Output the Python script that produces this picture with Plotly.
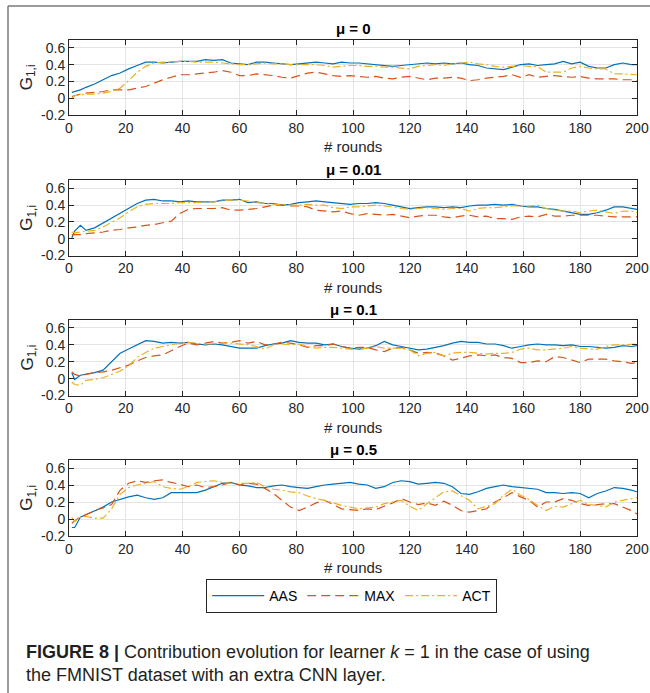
import plotly.graph_objects as go
from plotly.subplots import make_subplots

# ---------------- data ----------------
rounds = [1, 2, 4, 6, 9,
          12, 15, 18, 21, 24, 27, 30, 33, 36, 39,
          42, 45, 48, 51, 54, 57, 60, 63, 66, 69,
          72, 75, 78, 81, 84, 87, 90, 93, 96, 99,
          102, 105, 108, 111, 114, 117, 120, 123, 126, 129,
          132, 135, 138, 141, 144, 147, 150, 153, 156, 159,
          162, 165, 168, 171, 174, 177, 180, 183, 186, 189,
          192, 195, 198, 200]

mu_labels = ["0", "0.01", "0.1", "0.5"]
series_names = ["AAS", "MAX", "ACT"]

aas_mu0 = [0.07, 0.08, 0.10, 0.13, 0.17,
           0.22, 0.27, 0.30, 0.35, 0.39, 0.43, 0.43, 0.42, 0.43, 0.44,
           0.44, 0.44, 0.46, 0.45, 0.46, 0.42, 0.41, 0.40, 0.43, 0.43,
           0.42, 0.41, 0.40, 0.41, 0.42, 0.43, 0.42, 0.41, 0.43, 0.42,
           0.42, 0.41, 0.40, 0.39, 0.38, 0.39, 0.40, 0.41, 0.42, 0.41,
           0.42, 0.41, 0.42, 0.40, 0.39, 0.36, 0.35, 0.34, 0.37, 0.40,
           0.41, 0.39, 0.40, 0.41, 0.44, 0.41, 0.43, 0.38, 0.36, 0.36,
           0.40, 0.42, 0.40, 0.40]
max_mu0 = [0.02, 0.03, 0.05, 0.06, 0.07,
           0.08, 0.10, 0.10, 0.10, 0.12, 0.14, 0.18, 0.22, 0.25, 0.28,
           0.28, 0.29, 0.30, 0.31, 0.33, 0.31, 0.27, 0.27, 0.29, 0.28,
           0.27, 0.25, 0.24, 0.27, 0.30, 0.31, 0.29, 0.27, 0.26, 0.27,
           0.26, 0.25, 0.26, 0.24, 0.23, 0.25, 0.26, 0.24, 0.22, 0.24,
           0.24, 0.25, 0.24, 0.21, 0.22, 0.24, 0.25, 0.26, 0.28, 0.25,
           0.28, 0.25, 0.26, 0.27, 0.26, 0.25, 0.26, 0.24, 0.23, 0.23,
           0.23, 0.22, 0.22, 0.21]
act_mu0 = [0.00, 0.03, 0.04, 0.05, 0.05,
           0.06, 0.08, 0.12, 0.21, 0.31, 0.38, 0.42, 0.43, 0.43, 0.44,
           0.44, 0.43, 0.43, 0.43, 0.42, 0.41, 0.40, 0.40, 0.41, 0.42,
           0.41, 0.41, 0.40, 0.40, 0.40, 0.40, 0.39, 0.37, 0.38, 0.39,
           0.39, 0.38, 0.38, 0.37, 0.37, 0.36, 0.35, 0.38, 0.39, 0.40,
           0.39, 0.41, 0.42, 0.43, 0.41, 0.40, 0.38, 0.37, 0.38, 0.39,
           0.38, 0.38, 0.31, 0.31, 0.31, 0.36, 0.38, 0.36, 0.35, 0.35,
           0.29, 0.29, 0.28, 0.28]

aas_mu001 = [0.01, 0.09, 0.16, 0.10, 0.13,
             0.19, 0.25, 0.31, 0.37, 0.42, 0.46, 0.47, 0.45, 0.45, 0.44,
             0.45, 0.44, 0.44, 0.44, 0.46, 0.46, 0.47, 0.43, 0.44, 0.42,
             0.42, 0.40, 0.41, 0.43, 0.44, 0.45, 0.44, 0.43, 0.42, 0.41,
             0.42, 0.42, 0.43, 0.42, 0.40, 0.38, 0.36, 0.37, 0.38, 0.38,
             0.37, 0.38, 0.37, 0.39, 0.40, 0.40, 0.41, 0.40, 0.41, 0.39,
             0.38, 0.38, 0.36, 0.35, 0.33, 0.31, 0.29, 0.29, 0.31, 0.34,
             0.38, 0.38, 0.36, 0.35]
max_mu001 = [0.05, 0.05, 0.05, 0.06, 0.07,
             0.08, 0.10, 0.11, 0.13, 0.14, 0.16, 0.17, 0.19, 0.21, 0.30,
             0.35, 0.36, 0.36, 0.36, 0.37, 0.34, 0.34, 0.35, 0.36, 0.38,
             0.40, 0.40, 0.39, 0.39, 0.38, 0.34, 0.33, 0.32, 0.33, 0.30,
             0.28, 0.30, 0.29, 0.28, 0.29, 0.27, 0.25, 0.27, 0.28, 0.28,
             0.26, 0.25, 0.27, 0.28, 0.26, 0.27, 0.24, 0.24, 0.23, 0.26,
             0.27, 0.26, 0.29, 0.27, 0.27, 0.28, 0.28, 0.28, 0.28, 0.27,
             0.26, 0.26, 0.26, 0.26]
act_mu001 = [0.08, 0.07, 0.08, 0.09, 0.10,
             0.14, 0.19, 0.25, 0.32, 0.38, 0.41, 0.42, 0.42, 0.42, 0.43,
             0.43, 0.43, 0.44, 0.44, 0.45, 0.46, 0.46, 0.45, 0.43, 0.42,
             0.41, 0.41, 0.40, 0.40, 0.41, 0.40, 0.40, 0.37, 0.36, 0.38,
             0.38, 0.39, 0.40, 0.39, 0.38, 0.36, 0.35, 0.36, 0.37, 0.36,
             0.35, 0.36, 0.36, 0.33, 0.36, 0.37, 0.37, 0.38, 0.39, 0.39,
             0.39, 0.40, 0.36, 0.34, 0.33, 0.33, 0.31, 0.33, 0.34, 0.32,
             0.30, 0.33, 0.33, 0.31]

aas_mu01 = [0.07, -0.01, 0.04, 0.05, 0.07,
            0.10, 0.20, 0.30, 0.35, 0.40, 0.45, 0.44, 0.42, 0.43, 0.42,
            0.43, 0.41, 0.40, 0.41, 0.40, 0.38, 0.36, 0.36, 0.36, 0.39,
            0.41, 0.42, 0.45, 0.43, 0.42, 0.42, 0.40, 0.41, 0.38, 0.36,
            0.35, 0.36, 0.39, 0.44, 0.40, 0.38, 0.36, 0.34, 0.35, 0.37,
            0.39, 0.42, 0.44, 0.43, 0.43, 0.41, 0.41, 0.39, 0.36, 0.38,
            0.40, 0.41, 0.40, 0.40, 0.39, 0.40, 0.38, 0.38, 0.37, 0.36,
            0.37, 0.39, 0.38, 0.39]
max_mu01 = [0.08, 0.05, 0.03, 0.05, 0.07,
            0.08, 0.10, 0.13, 0.16, 0.21, 0.25, 0.27, 0.28, 0.33, 0.38,
            0.42, 0.40, 0.42, 0.44, 0.42, 0.43, 0.45, 0.42, 0.44, 0.40,
            0.41, 0.43, 0.42, 0.40, 0.37, 0.39, 0.39, 0.41, 0.38, 0.36,
            0.37, 0.37, 0.34, 0.32, 0.36, 0.37, 0.34, 0.30, 0.31, 0.30,
            0.27, 0.22, 0.24, 0.27, 0.28, 0.27, 0.28, 0.25, 0.24, 0.19,
            0.19, 0.21, 0.20, 0.26, 0.25, 0.22, 0.19, 0.23, 0.23, 0.23,
            0.21, 0.20, 0.18, 0.19]
act_mu01 = [-0.04, -0.07, -0.08, -0.02, -0.01,
            0.01, 0.05, 0.09, 0.15, 0.25, 0.31, 0.36, 0.38, 0.40, 0.42,
            0.43, 0.42, 0.41, 0.41, 0.42, 0.42, 0.41, 0.40, 0.38, 0.35,
            0.40, 0.41, 0.40, 0.41, 0.38, 0.36, 0.37, 0.37, 0.36, 0.35,
            0.35, 0.36, 0.38, 0.36, 0.36, 0.36, 0.34, 0.27, 0.30, 0.31,
            0.27, 0.30, 0.31, 0.31, 0.30, 0.29, 0.30, 0.30, 0.31, 0.35,
            0.36, 0.34, 0.34, 0.35, 0.36, 0.38, 0.36, 0.35, 0.35, 0.38,
            0.40, 0.40, 0.41, 0.41]

aas_mu05 = [-0.10, -0.10, 0.02, 0.05, 0.09,
            0.14, 0.20, 0.23, 0.26, 0.28, 0.25, 0.23, 0.25, 0.31, 0.31,
            0.31, 0.31, 0.34, 0.38, 0.42, 0.43, 0.40, 0.39, 0.37, 0.37,
            0.39, 0.40, 0.38, 0.37, 0.36, 0.38, 0.40, 0.41, 0.42, 0.43,
            0.41, 0.40, 0.36, 0.38, 0.43, 0.45, 0.44, 0.41, 0.42, 0.43,
            0.42, 0.38, 0.30, 0.29, 0.32, 0.36, 0.38, 0.40, 0.38, 0.37,
            0.36, 0.35, 0.31, 0.31, 0.30, 0.31, 0.30, 0.25, 0.30, 0.33,
            0.37, 0.36, 0.34, 0.32]
max_mu05 = [-0.05, -0.02, 0.03, 0.05, 0.10,
            0.13, 0.17, 0.34, 0.42, 0.45, 0.43, 0.45, 0.46, 0.43, 0.41,
            0.38, 0.40, 0.37, 0.38, 0.40, 0.43, 0.40, 0.42, 0.41, 0.36,
            0.30, 0.22, 0.14, 0.10, 0.14, 0.19, 0.22, 0.17, 0.12, 0.11,
            0.10, 0.12, 0.11, 0.15, 0.19, 0.24, 0.20, 0.17, 0.19, 0.16,
            0.21, 0.16, 0.10, 0.08, 0.10, 0.12, 0.20, 0.25, 0.31, 0.26,
            0.22, 0.14, 0.20, 0.20, 0.24, 0.22, 0.18, 0.16, 0.17, 0.18,
            0.18, 0.14, 0.10, 0.06]
act_mu05 = [0.02, -0.03, 0.02, 0.03, 0.01,
            0.01, 0.12, 0.29, 0.37, 0.40, 0.42, 0.44, 0.38, 0.36, 0.35,
            0.38, 0.43, 0.44, 0.45, 0.43, 0.42, 0.42, 0.42, 0.43, 0.38,
            0.35, 0.34, 0.32, 0.31, 0.27, 0.24, 0.22, 0.19, 0.16, 0.14,
            0.12, 0.13, 0.14, 0.18, 0.20, 0.22, 0.15, 0.10, 0.18, 0.25,
            0.32, 0.33, 0.27, 0.22, 0.12, 0.15, 0.18, 0.28, 0.35, 0.28,
            0.23, 0.16, 0.10, 0.15, 0.14, 0.18, 0.22, 0.17, 0.16, 0.14,
            0.20, 0.22, 0.24, 0.25]

panels = [
    [aas_mu0, max_mu0, act_mu0],
    [aas_mu001, max_mu001, act_mu001],
    [aas_mu01, max_mu01, act_mu01],
    [aas_mu05, max_mu05, act_mu05],
]

y_tick_vals = [-0.2, 0, 0.2, 0.4, 0.6]
y_tick_text = ["-0.2", "0", "0.2", "0.4", "0.6"]
x_tick_vals = [0, 20, 40, 60, 80, 100, 120, 140, 160, 180, 200]

for p in panels:
    for s in p:
        if len(s) != len(rounds):
            raise ValueError("length mismatch %d" % len(s))

# ---------------- styling ----------------
W, H = 650, 693
colors = ["#0072BD", "#D95319", "#EDB120"]
dashes = ["solid", "9px,5px", "8px,3px,2px,3px"]
FONT = "Liberation Sans, Arial, Helvetica, sans-serif"
AXC = "#262626"

# pixel boxes of plot areas (top, bottom)
boxes = [(39.5, 115.0), (180.0, 255.5), (319.5, 395.5), (459.5, 536.0)]
x_left, x_right = 69.0, 637.0


def py(pix):
    return 1 - pix / H


def px(pix):
    return pix / W


fig = make_subplots(rows=4, cols=1)

for i, p in enumerate(panels):
    for j, s in enumerate(p):
        fig.add_trace(
            go.Scatter(
                x=rounds, y=s, mode="lines", name=series_names[j],
                line=dict(color=colors[j], width=1.2, dash=dashes[j]),
                showlegend=(i == 0), legendrank=j,
            ),
            row=i + 1, col=1,
        )

for i, (top, bot) in enumerate(boxes):
    k = "" if i == 0 else str(i + 1)
    fig.layout["xaxis" + k].update(
        domain=[px(x_left), px(x_right)], range=[0, 200], automargin=False,
        tickvals=x_tick_vals, ticks="inside", ticklen=5, tickcolor=AXC,
        showline=True, linecolor=AXC, linewidth=1, mirror="ticks",
        showgrid=True, gridcolor="#e4e4e4", gridwidth=1, zeroline=False,
        tickfont=dict(family=FONT, size=14, color="#262626"),
        fixedrange=True,
    )
    fig.layout["yaxis" + k].update(
        domain=[py(bot), py(top)], range=[-0.2, 0.7], automargin=False,
        tickvals=y_tick_vals, ticktext=y_tick_text,
        ticks="inside", ticklen=5, tickcolor=AXC,
        showline=True, linecolor=AXC, linewidth=1, mirror="ticks",
        showgrid=True, gridcolor="#e4e4e4", gridwidth=1, zeroline=False,
        tickfont=dict(family=FONT, size=14, color="#262626"),
        fixedrange=True,
    )
    cx = (x_left + x_right) / 2
    # title
    fig.add_annotation(
        x=px(cx), y=py(top - 10.5), xref="paper", yref="paper",
        text="<b>\u03bc = %s</b>" % mu_labels[i], showarrow=False,
        xanchor="center", yanchor="middle",
        font=dict(family=FONT, size=15, color="#000000"),
    )
    # x label
    fig.add_annotation(
        x=px(cx), y=py(bot + 31.5), xref="paper", yref="paper",
        text="# rounds", showarrow=False, xanchor="center", yanchor="middle",
        font=dict(family=FONT, size=15, color="#262626"),
    )
    # y label
    fig.add_annotation(
        x=px(28), y=py((top + bot) / 2), xref="paper", yref="paper",
        text="G<sub>1,i</sub>", showarrow=False, textangle=-90,
        xanchor="center", yanchor="middle",
        font=dict(family=FONT, size=17, color="#262626"),
    )

# caption
fig.add_annotation(
    x=px(24), y=py(652), xref="paper", yref="paper", showarrow=False,
    xanchor="left", yanchor="middle",
    text="<b>FIGURE 8 |</b> Contribution evolution for learner <i>k</i> = 1 in the case of using",
    font=dict(family=FONT, size=18, color="#231f20"),
)
fig.add_annotation(
    x=px(24), y=py(675), xref="paper", yref="paper", showarrow=False,
    xanchor="left", yanchor="middle",
    text="the FMNIST dataset with an extra CNN layer.",
    font=dict(family=FONT, size=18, color="#231f20"),
)

# gray page frame
fig.add_shape(type="line", xref="paper", yref="paper",
              x0=px(8), x1=px(8), y0=0, y1=py(6),
              line=dict(color="#7a7a7a", width=1.5))
fig.add_shape(type="line", xref="paper", yref="paper",
              x0=px(8), x1=1, y0=py(6), y1=py(6),
              line=dict(color="#7a7a7a", width=1.5))

fig.update_layout(
    width=W, height=H,
    margin=dict(l=0, r=0, t=0, b=0, autoexpand=False),
    paper_bgcolor="white", plot_bgcolor="white",
    showlegend=True,
    legend=dict(
        orientation="h", x=px(351.7), y=py(596), xanchor="center", yanchor="middle",
        bordercolor="#262626", borderwidth=1, bgcolor="white",
        font=dict(family=FONT, size=14, color="#000000"),
        itemwidth=52, traceorder="normal",
    ),
)

fig.write_html(
    "out.html",
    config={"displayModeBar": False, "staticPlot": True},
    post_script="document.body.style.margin='0';document.body.style.padding='0';"
                "document.body.style.overflow='hidden';",
)
